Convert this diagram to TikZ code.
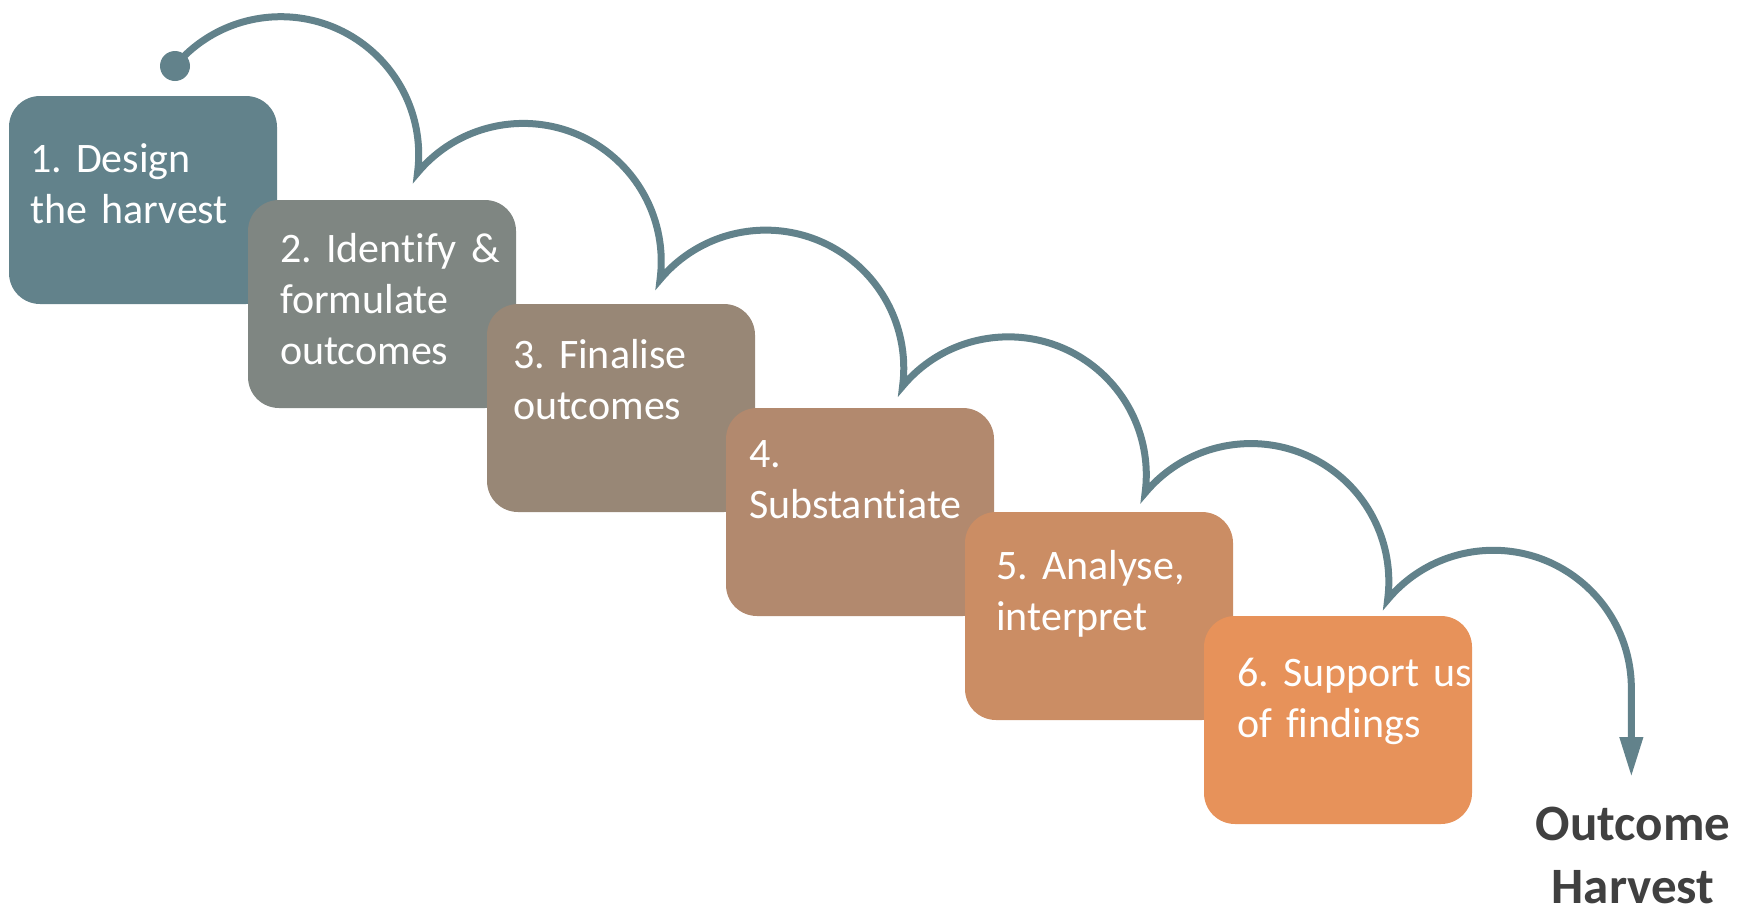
\documentclass[tikz,border=0pt]{standalone}
\usepackage{fontspec}
\setmainfont{Carlito}[Ligatures=NoCommon]
\usepackage{xcolor}
\usepackage{tikz}
\usetikzlibrary{arrows.meta}
\frenchspacing

\definecolor{stepA}{RGB}{98,130,139}
\definecolor{stepB}{RGB}{127,134,130}
\definecolor{stepC}{RGB}{152,135,118}
\definecolor{stepD}{RGB}{178,137,110}
\definecolor{stepE}{RGB}{203,141,100}
\definecolor{stepF}{RGB}{231,146,90}
\definecolor{harvestgray}{RGB}{64,64,64}

\begin{document}
\begin{tikzpicture}
    \tikzset{x={(1pt, 0pt)}, y={(0pt, -1pt)}}
    \tikzset{stepbox/.style={rounded corners=31pt, minimum width=268pt, minimum height=208pt, inner sep=0pt},
             steptext/.style={text=white, anchor=base west, align=left, text width=250pt, inner sep=0pt,
                              font=\fontsize{42}{51}\selectfont\frenchspacing},
             arcline/.style={draw=stepA, line width=7pt}}
    \useasboundingbox (0, 0) rectangle (1754, 908);
    % the six steps
    \node[stepbox, fill=stepA] (box1) at ( 143, 200) {};
    \node[steptext] (txt1) at (  30, 172) {1. Design\\the harvest};
    \node[stepbox, fill=stepB] (box2) at ( 382, 304) {};
    \node[steptext] (txt2) at ( 280, 262) {2. Identify \&\\formulate\\outcomes};
    \node[stepbox, fill=stepC] (box3) at ( 621, 408) {};
    \node[steptext] (txt3) at ( 513, 368) {3. Finalise\\outcomes};
    \node[stepbox, fill=stepD] (box4) at ( 860, 512) {};
    \node[steptext] (txt4) at ( 749, 467) {4.\\Substantiate};
    \node[stepbox, fill=stepE] (box5) at (1099, 616) {};
    \node[steptext] (txt5) at ( 996, 579) {5. Analyse,\\interpret};
    \node[stepbox, fill=stepF] (box6) at (1338, 720) {};
    \node[steptext] (txt6) at (1237, 686) {6. Support us\\of findings};
    \node[font=\bfseries\fontsize{51}{63}\selectfont, text=harvestgray, text width=300pt, align=center,
          anchor=base, inner sep=0pt] (harvest) at (1633, 840) {Outcome\\Harvest};
    % hops over the steps
    \coordinate (J0) at (175, 66);
    \coordinate (tip) at (1631, 777);
    \fill[stepA] (J0) circle[radius=15pt];
    \draw[arcline, -{Triangle[length=40pt, width=22pt]}] (J0)
        arc[start angle=140, end angle=-7.5, radius=138pt] coordinate (J1)
        arc[start angle=140, end angle=-7.5, radius=138pt] coordinate (J2)
        arc[start angle=140, end angle=-7.5, radius=138pt] coordinate (J3)
        arc[start angle=140, end angle=-7.5, radius=138pt] coordinate (J4)
        arc[start angle=140, end angle=-7.5, radius=138pt] coordinate (J5)
        arc[start angle=140, end angle=0, radius=138pt] coordinate (J6)
        -- (J6 |- tip);
\end{tikzpicture}
\end{document}
